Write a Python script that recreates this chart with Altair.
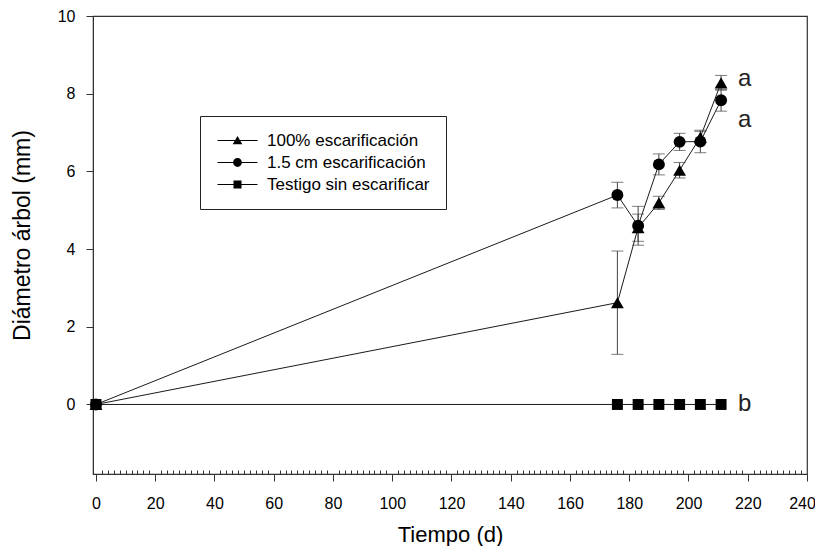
import altair as alt
import pandas as pd

# ---- data ----
dias = [0, 176, 183, 190, 197, 204, 211]
series = ["100% escarificación", "1.5 cm escarificación", "Testigo sin escarificar"]
media_100 = [0, 2.62, 4.55, 5.19, 6.03, 6.88, 8.28]
ee_100 = [0, 1.33, 0.35, 0.17, 0.20, 0.15, 0.19]
media_15 = [0, 5.39, 4.60, 6.18, 6.76, 6.77, 7.83]
ee_15 = [0, 0.33, 0.50, 0.27, 0.22, 0.29, 0.28]
media_testigo = [0, 0, 0, 0, 0, 0, 0]
ee_testigo = [0, 0, 0, 0, 0, 0, 0]

letras = ["a", "a", "b"]
letras_x = [219, 219, 219]
letras_y = [8.38, 7.32, 0.0]

x_ticks = list(range(0, 241, 20))
x_minor = [v for v in range(0, 241, 2) if v % 20 != 0]
y_ticks = [0, 2, 4, 6, 8, 10]

# ---- tables ----
rows = []
for s, m, e in zip(series, [media_100, media_15, media_testigo], [ee_100, ee_15, ee_testigo]):
    for i, (d, v, err) in enumerate(zip(dias, m, e)):
        rows.append({"serie": s, "orden": i, "dia": d, "media": v, "lo": v - err, "hi": v + err, "ee": err})
df = pd.DataFrame(rows)
df_err = df[df["ee"] > 0]
df_txt = pd.DataFrame({"letra": letras, "x": letras_x, "y": letras_y})
df_leg = pd.DataFrame({"serie": series})

xscale = alt.Scale(domain=[-1, 240], nice=False, zero=False)
yscale = alt.Scale(domain=[-1.79, 10], nice=False, zero=False)

AX = "#333333"

x_main = alt.Axis(values=x_ticks, orient="bottom", title="Tiempo (d)", tickSize=7, labelPadding=14,
                  labelFontSize=16, titleFontSize=22, titlePadding=13, labelFlush=False,
                  labelOffset={"condition": {"test": "datum.value == 240", "value": -5}, "value": 0},
                  labelOverlap=False, grid=False, domainColor=AX, tickColor=AX,
                  labelColor="black", titleColor="black", titleFontWeight="normal")
x_min = alt.Axis(values=x_minor, orient="bottom", offset=-4, tickSize=4, labels=False, domain=False,
                 title=None, grid=False, tickColor=AX)
y_main = alt.Axis(values=y_ticks, orient="left", title="Diámetro árbol (mm)", tickSize=7, labelPadding=11,
                  labelFontSize=16, titleFontSize=23, titlePadding=23, titleY=219, grid=False,
                  domainColor=AX, tickColor=AX, labelColor="black", titleColor="black",
                  titleFontWeight="normal")

shape_range = ["triangle-up", "circle", "square"]
size_range = [165, 120, 120]

leg_paths = [
    "M-5,-0.13 H5 V0.13 H-5 Z M0,-1.1 L1.2,0.95 L-1.2,0.95 Z",
    "M-5,-0.13 H5 V0.13 H-5 Z M-1.1,0 A1.1,1.1 0 1,1 1.1,0 A1.1,1.1 0 1,1 -1.1,0 Z",
    "M-5,-0.13 H5 V0.13 H-5 Z M-1,-1 H1 V1 H-1 Z",
]

base = alt.Chart(df)

lines = base.mark_line(color="#1a1a1a", strokeWidth=1).encode(
    x=alt.X("dia:Q", scale=xscale, axis=x_main),
    y=alt.Y("media:Q", scale=yscale, axis=y_main),
    detail="serie:N",
    order="orden:Q",
)

err_rule = alt.Chart(df_err).mark_rule(color="#444444", strokeWidth=1).encode(
    x=alt.X("dia:Q", scale=xscale, axis=None),
    y=alt.Y("lo:Q", scale=yscale, axis=None),
    y2="hi:Q",
)
cap_lo = alt.Chart(df_err).mark_tick(color="#444444", orient="horizontal", size=12, thickness=1).encode(
    x=alt.X("dia:Q", scale=xscale, axis=None),
    y=alt.Y("lo:Q", scale=yscale, axis=None),
)
cap_hi = alt.Chart(df_err).mark_tick(color="#444444", orient="horizontal", size=12, thickness=1).encode(
    x=alt.X("dia:Q", scale=xscale, axis=None),
    y=alt.Y("hi:Q", scale=yscale, axis=None),
)

points = base.mark_point(filled=True, color="black", opacity=1).encode(
    x=alt.X("dia:Q", scale=xscale, axis=x_min),
    y=alt.Y("media:Q", scale=yscale, axis=None),
    shape=alt.Shape("serie:N", scale=alt.Scale(domain=series, range=shape_range), legend=None),
    size=alt.Size("serie:N", scale=alt.Scale(domain=series, range=size_range), legend=None),
)

text = alt.Chart(df_txt).mark_text(fontSize=24, color="#222222", align="center", baseline="middle").encode(
    x=alt.X("x:Q", scale=xscale, axis=None),
    y=alt.Y("y:Q", scale=yscale, axis=None),
    text="letra:N",
)

legend_layer = alt.Chart(df_leg).mark_point(filled=True, color="black", opacity=1).encode(
    shape=alt.Shape(
        "serie:N",
        scale=alt.Scale(domain=series, range=leg_paths),
        legend=alt.Legend(
            title=None, orient="none", legendX=107, legendY=100,
            strokeColor="#222222", fillColor="white", padding=16,
            symbolSize=64, symbolFillColor="black", symbolStrokeColor="black", symbolStrokeWidth=0,
            symbolOffset=13, labelOffset=21, labelFontSize=17, labelColor="black",
            rowPadding=4, labelLimit=0, cornerRadius=0,
        ),
    ),
).transform_filter("false")

chart = (
    alt.layer(lines, err_rule, cap_lo, cap_hi, points, text, legend_layer)
    .resolve_scale(shape="independent", size="independent")
    .resolve_axis(x="independent", y="independent")
    .properties(
        width=714, height=458,
        autosize=alt.AutoSizeParams(type="none"),
        padding={"left": 85, "top": 8, "right": 8, "bottom": 72},
    )
    .configure(font="Liberation Sans")
    .configure_view(stroke=AX, strokeWidth=1.2)
)

chart.save("out.html", embed_options={"renderer": "svg", "actions": False})
